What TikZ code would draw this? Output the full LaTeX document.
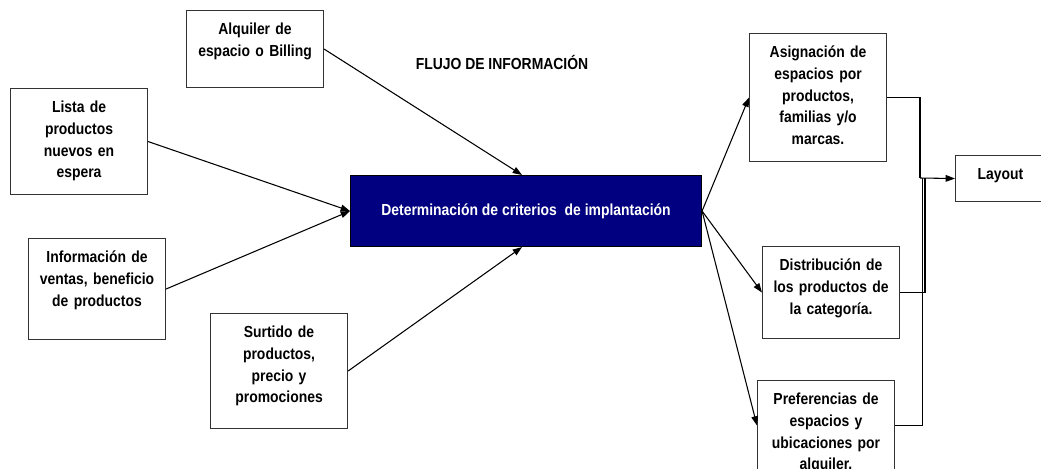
\documentclass[tikz,border=0pt]{standalone}
\usepackage{fontspec}
\usepackage{tikz}
\usetikzlibrary{calc}
\usetikzlibrary{positioning, arrows.meta}
\newfontfamily\flowfont{Liberation Sans}[FakeStretch=0.87]
\definecolor{navyblue}{RGB}{0,0,128}

\begin{document}
\begin{tikzpicture}[
		x=0.75pt, y=-0.75pt,
		% Styles
		box/.style={rectangle, draw=black!80, line width=0.8pt, fill=white, anchor=north west,
			text width=102.75pt, align=center, inner xsep=0pt, inner ysep=0pt, text height=18pt,
			font=\flowfont\bfseries\fontsize{12}{16.3}\selectfont},
		process/.style={rectangle, draw=black, line width=0.8pt, fill=navyblue, text=white, anchor=north west,
			minimum width=263.25pt, minimum height=53.25pt,
			font=\flowfont\bfseries\fontsize{12}{16.3}\selectfont},
		arrow/.style={-{Triangle[length=7pt,width=5pt]}, line width=0.8pt},
		link/.style={line width=0.8pt}
	]
	\useasboundingbox (0,0) rectangle (1041,468);
	\clip (0,0) rectangle (1041,468);

	% --- Inputs ---
	\node[box, text depth=39.75pt] (alquiler) at (186,10) {Alquiler de\\espacio o Billing};
	\node[box, text depth=61.5pt] (lista) at (10,88) {Lista de\\productos\\nuevos en\\espera};
	\node[box, text depth=57.75pt] (ventas) at (28,238) {Información de\\ventas, beneficio\\de productos};
	\node[box, text depth=68.25pt] (surtido) at (210,313) {Surtido de\\productos,\\precio y\\promociones};

	% --- Central process ---
	\node[process] (criterios) at (350,175) {Determinación de criterios \ de implantación};
	\node[font=\flowfont\bfseries\fontsize{12}{14}\selectfont] (flujo) at (502,62) {FLUJO DE INFORMACIÓN};

	% --- Outputs ---
	\node[box, text depth=78pt] (asignacion) at (749,33) {Asignación de\\espacios por\\productos,\\familias y/o\\marcas.};
	\node[box, text depth=51pt] (distribucion) at (762,246) {Distribución de\\los productos de\\la categoría.};
	\node[box, text depth=49.5pt] (preferencias) at (757,380) {Preferencias de\\espacios y\\ubicaciones por\\alquiler.};
	\node[box, text width=67.5pt, text depth=16.5pt] (layout) at (955,155) {Layout};
	\coordinate (junction) at (920,178);

	% --- ARROWS ---
	% Inputs to process
	\draw[arrow] (alquiler.east) -- ($(criterios.north)+(-4,0)$);
	\draw[arrow] (lista.east) -- (criterios.west);
	\draw[arrow] (ventas.east) -- (criterios.west);
	\draw[arrow] (surtido.east) -- ($(criterios.south)+(-4,0)$);

	% Process to outputs
	\draw[arrow] (criterios.east) -- (asignacion.west);
	\draw[arrow] (criterios.east) -- (distribucion.west);
	\draw[arrow] (criterios.east) -- (preferencias.west);

	% Outputs to layout
	\draw[link] (asignacion.east) -| (junction);
	\draw[link] (preferencias.east) -| ($(junction)+(2.5,0)$);
	\draw[link] (distribucion.east) -| ($(junction)+(5,0)$);
	\draw[arrow] (junction) -- (layout.west);

\end{tikzpicture}
\end{document}
